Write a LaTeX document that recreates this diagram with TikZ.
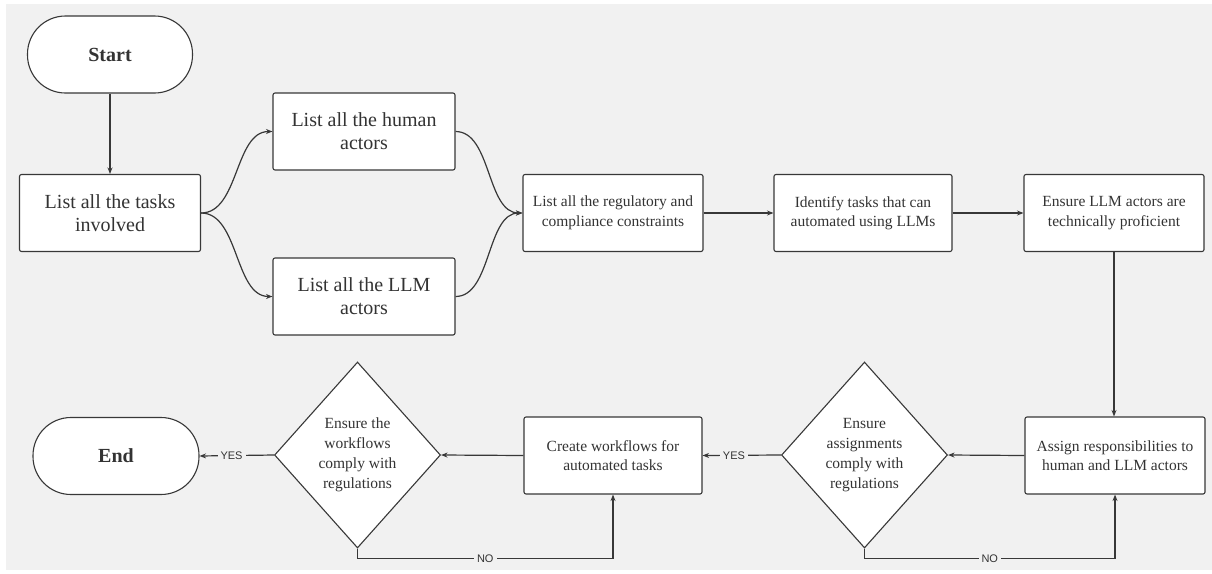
\documentclass[tikz,border=0pt]{standalone}
\usepackage{fontspec}
\setmainfont{Liberation Serif}
\newfontfamily\lblfont{Liberation Sans}
\usetikzlibrary{shapes.geometric,arrows.meta}
\definecolor{bg}{HTML}{F1F1F1}
\definecolor{ink}{HTML}{333333}
\definecolor{edge}{HTML}{383838}
\begin{document}
\begin{tikzpicture}[x=1pt,y=-1pt,
  box/.style={draw=edge,line width=1.1pt,fill=white,rounded corners=2pt,inner sep=0pt,
    minimum width=180pt,minimum height=77pt,align=center,text=ink,
    font=\fontsize{15.5}{19.5}\selectfont},
  bigbox/.style={box,font=\fontsize{20}{23}\selectfont},
  term/.style={draw=edge,line width=1.1pt,fill=white,rounded corners=38pt,inner sep=0pt,
    minimum width=165pt,minimum height=77pt,text=ink,font=\bfseries\fontsize{20}{23}\selectfont},
  dec/.style={draw=edge,line width=1.1pt,fill=white,shape=diamond,inner sep=0pt,
    minimum width=166pt,minimum height=186pt,align=center,text=ink,
    font=\fontsize{15.5}{20}\selectfont},
  arr/.style={draw=edge,line width=1.2pt,-{Stealth[length=6.5pt,width=5pt]}},
  lbl/.style={fill=bg,inner sep=3pt,text=ink,font=\lblfont\fontsize{11}{13}\selectfont}
]
\useasboundingbox (0,0) rectangle (1212,573);
\fill[white] (0,0) rectangle (1212,573);
\fill[bg] (6,4) rectangle (1212,570);

\node[term] (start) at (110,54.5) {Start};
\node[bigbox,minimum width=181pt] (tasks) at (110,213) {List all the tasks\\involved};
\node[bigbox,minimum width=182pt] (human) at (364,131.5) {List all the human\\actors};
\node[bigbox,minimum width=182pt] (llm) at (364,296.5) {List all the LLM\\actors};
\node[box] (reg) at (613,213) {List all the regulatory and\\compliance constraints};
\node[box,minimum width=178pt] (ident) at (863,213) {Identify tasks that can\\automated using LLMs};
\node[box] (ensure) at (1114,213) {Ensure LLM actors are\\technically proficient};
\node[box] (assign) at (1115,455.5) {Assign responsibilities to\\human and LLM actors};
\node[dec] (d2) at (864.5,455) {Ensure\\assignments\\comply with\\regulations};
\node[box,minimum width=178pt] (create) at (613,455.5) {Create workflows for\\automated tasks};
\node[dec] (d1) at (357.5,455) {Ensure the\\workflows\\comply with\\regulations};
\node[term,minimum width=166pt] (end) at (116,456) {End};

\draw[arr] (start.south) -- (tasks.north);
\draw[arr] (tasks.east) .. controls +(38,0) and +(-38,0) .. (human.west);
\draw[arr] (tasks.east) .. controls +(38,0) and +(-38,0) .. (llm.west);
\draw[arr] (human.east) .. controls +(36,0) and +(-36,0) .. (reg.west);
\draw[arr] (llm.east) .. controls +(36,0) and +(-36,0) .. (reg.west);
\draw[arr] (reg.east) -- (ident.west);
\draw[arr] (ident.east) -- (ensure.west);
\draw[arr] (ensure.south) -- (ensure.south |- assign.north);
\draw[arr] (assign.west) -- (d2.east);
\draw[arr] (d2.west) -- node[lbl,pos=0.6]{YES} (create.east);
\draw[arr] (create.west) -- (d1.east);
\draw[arr] (d1.west) -- node[lbl,pos=0.57]{YES} (end.east);
\draw[arr] (d1.south) -- ++(0,10) -| node[lbl,pos=0.25]{NO} (create.south);
\draw[arr] (d2.south) -- ++(0,10) -| node[lbl,pos=0.25]{NO} (assign.south);
\end{tikzpicture}
\end{document}
